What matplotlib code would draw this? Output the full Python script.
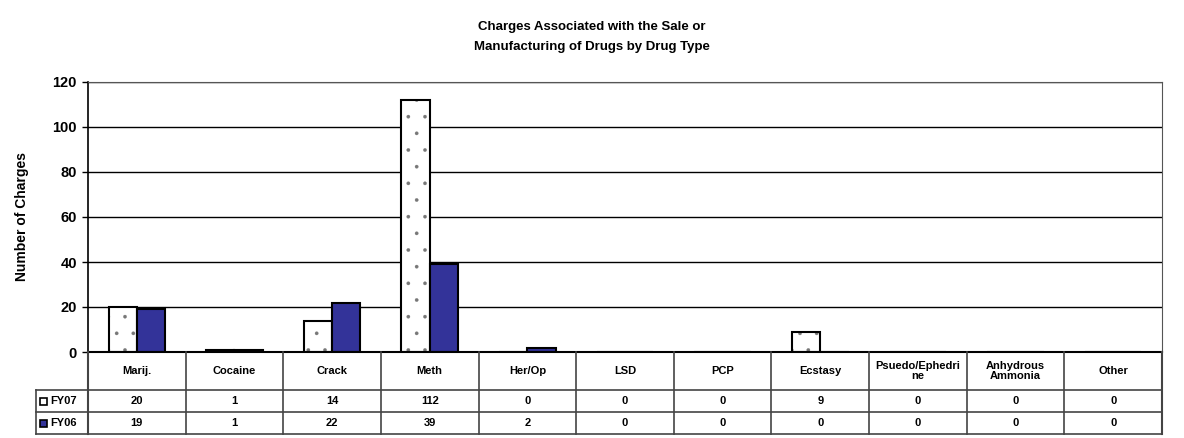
import numpy as np
import matplotlib
matplotlib.use('Agg')
import matplotlib.pyplot as plt
from matplotlib.lines import Line2D
from matplotlib.patches import Rectangle

plt.rcParams['font.family'] = ['Liberation Sans', 'DejaVu Sans']
plt.rcParams['hatch.linewidth'] = 0.2

categorias = ['Marij.', 'Cocaine', 'Crack', 'Meth', 'Her/Op', 'LSD', 'PCP',
              'Ecstasy', 'Psuedo/Ephedri\nne', 'Anhydrous\nAmmonia', 'Other']
fy07 = [20, 1, 14, 112, 0, 0, 0, 9, 0, 0, 0]
fy06 = [19, 1, 22, 39, 2, 0, 0, 0, 0, 0, 0]
series = ['FY07', 'FY06']

W, H = 1184, 438
fig = plt.figure(figsize=(W / 100, H / 100), dpi=100)
x0, x1, ytop, ybase = 88, 1162, 82, 352
ax = fig.add_axes([x0 / W, 1 - ybase / H, (x1 - x0) / W, (ybase - ytop) / H])

x = np.arange(len(categorias))
bw = 0.29
# FY07: puntos grises, borde negro
ax.bar(x - bw / 2, fy07, bw, color='white', edgecolor='#777777', hatch='.', linewidth=0, zorder=3)
ax.bar(x - bw / 2, fy07, bw, color='none', edgecolor='black', linewidth=1.5, zorder=4)
ax.bar(x + bw / 2, fy06, bw, color='#333399', edgecolor='black', linewidth=1.5, zorder=4)

ax.set_xlim(-0.5, len(categorias) - 0.5)
ax.set_ylim(0, 120)
ax.set_yticks(range(0, 121, 20))
ax.set_yticklabels([str(v) for v in range(0, 121, 20)], fontsize=10.5, fontweight='bold')
ax.set_xticks([])
ax.yaxis.grid(True, color='black', linewidth=1)
ax.set_axisbelow(True)
ax.tick_params(axis='y', length=4, width=1, pad=4)
for s in ['top', 'right']:
    ax.spines[s].set_color('#555555')
ax.spines['left'].set_linewidth(1.2)
ax.spines['bottom'].set_visible(False)
ax.set_ylabel('Number of Charges', fontsize=10, fontweight='bold', labelpad=17)

fig.text(0.5, 1 - 27 / H, 'Charges Associated with the Sale or', ha='center', va='center',
         fontsize=9.5, fontweight='bold')
fig.text(0.5, 1 - 47 / H, 'Manufacturing of Drugs by Drug Type', ha='center', va='center',
         fontsize=9.5, fontweight='bold')

# tabla de datos
def px(xp, yp):
    return xp / W, 1 - yp / H

lc = '#444444'
cw = (x1 - x0) / len(categorias)
rows = [352, 390, 412, 434]
legx = 36

def hline(xa, xb, yp, color=lc, lw=1.2):
    fig.add_artist(Line2D([xa / W, xb / W], [1 - yp / H, 1 - yp / H], color=color, lw=lw))

def vline(xp, ya, yb, color=lc, lw=1.2):
    fig.add_artist(Line2D([xp / W, xp / W], [1 - ya / H, 1 - yb / H], color=color, lw=lw))

hline(x0, x1, rows[0], color='black', lw=1.5)
for yp in rows[1:]:
    hline(legx, x1, yp)
vline(legx, rows[1], rows[3])
for i in range(len(categorias) + 1):
    vline(x0 + i * cw, rows[0], rows[3], lw=1.5 if i in (0, len(categorias)) else 1.2)

fs = 8
for i, cat in enumerate(categorias):
    cx = x0 + (i + 0.5) * cw
    fig.text(*px(cx, (rows[0] + rows[1]) / 2), cat, ha='center', va='center',
             fontsize=fs, fontweight='bold', linespacing=1.1)
    fig.text(*px(cx, (rows[1] + rows[2]) / 2), str(fy07[i]), ha='center', va='center',
             fontsize=fs, fontweight='bold')
    fig.text(*px(cx, (rows[2] + rows[3]) / 2), str(fy06[i]), ha='center', va='center',
             fontsize=fs, fontweight='bold')

colores = ['white', '#333399']
for j, nom in enumerate(series):
    yc = (rows[j + 1] + rows[j + 2]) / 2
    fig.add_artist(Rectangle(px(legx + 4, yc + 3.5), 7 / W, 7 / H, facecolor=colores[j],
                             edgecolor='black', lw=1.2))
    fig.text(*px(legx + 14, yc), nom, ha='left', va='center', fontsize=fs, fontweight='bold')

fig.savefig('out.png', dpi=100)
